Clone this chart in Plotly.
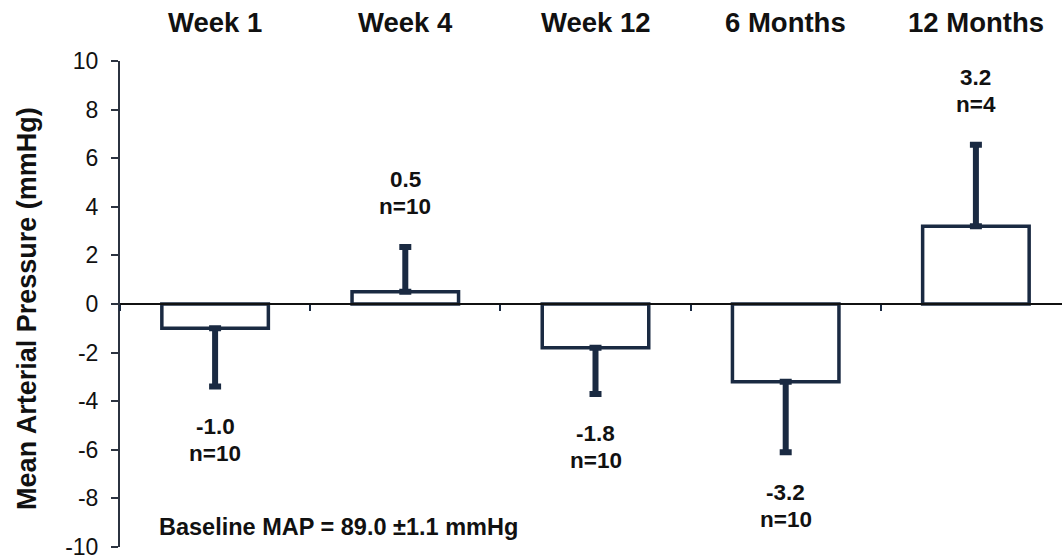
import plotly.graph_objects as go

# ---- data ----
categories = ["Week 1", "Week 4", "Week 12", "6 Months", "12 Months"]
mean_change = [-1.0, 0.5, -1.8, -3.2, 3.2]
error_size = [2.4, 1.85, 1.9, 2.9, 3.35]
n_patients = [10, 10, 10, 10, 4]
y_tick_values = [10, 8, 6, 4, 2, 0, -2, -4, -6, -8, -10]
y_tick_labels = ["10", "8", "6", "4", "2", "0", "-2", "-4", "-6", "-8", "-10"]
y_title = "Mean Arterial Pressure (mmHg)"
baseline_text = "Baseline MAP = 89.0 \u00b11.1 mmHg"

NAVY = "#1a2a42"
FONT = "Liberation Sans, Arial, sans-serif"

err_plus = [e if v > 0 else 0 for v, e in zip(mean_change, error_size)]
err_minus = [e if v < 0 else 0 for v, e in zip(mean_change, error_size)]

fig = go.Figure()
fig.add_trace(go.Bar(
    x=categories,
    y=mean_change,
    width=0.56,
    marker=dict(color="white", line=dict(color=NAVY, width=3.5)),
    error_y=dict(type="data", symmetric=False, array=err_plus, arrayminus=err_minus,
                 color=NAVY, thickness=6, width=6),
    showlegend=False,
    hoverinfo="skip",
))

label_font = dict(family=FONT, size=22.5, color="#111111", weight="bold")
annotations = []
# value / n labels near error-bar ends (two lines, 27 px apart)
for cat, v, e, n in zip(categories, mean_change, error_size, n_patients):
    end = v + e if v > 0 else v - e
    if v > 0:
        shifts = (67, 40)
    else:
        shifts = (-40, -67)
    for txt, sh in zip((f"{v:.1f}", f"n={n}"), shifts):
        annotations.append(dict(
            x=cat, y=end, xref="x", yref="y",
            text=txt, showarrow=False,
            yanchor="middle", yshift=sh,
            font=label_font,
        ))
# category labels on top
for cat in categories:
    annotations.append(dict(
        x=cat, y=1, xref="x", yref="paper",
        text=cat, showarrow=False, yanchor="middle", yshift=39,
        font=dict(family=FONT, size=27.5, color="#111111", weight="bold"),
    ))
# baseline note
annotations.append(dict(
    x=0.039, y=0.041, xref="paper", yref="paper", xanchor="left", yanchor="middle",
    text=baseline_text, showarrow=False,
    font=dict(family=FONT, size=23.5, color="#111111", weight="bold"),
))
# y title
annotations.append(dict(
    x=-0.0987, y=0.49, xref="paper", yref="paper", xanchor="center", yanchor="middle",
    text=y_title, showarrow=False, textangle=-90,
    font=dict(family=FONT, size=27, color="#111111", weight="bold"),
))

fig.update_layout(
    width=1062, height=560,
    margin=dict(l=120, r=0, t=61, b=13),
    paper_bgcolor="white", plot_bgcolor="white",
    annotations=annotations,
    xaxis=dict(
        type="category",
        range=[-0.5, 4.4527],
        anchor="free", position=0.5,
        showline=True, linecolor="#111111", linewidth=1.5,
        ticks="outside", tickson="boundaries", ticklen=6, tickwidth=2, tickcolor=NAVY,
        showticklabels=False, showgrid=False, zeroline=False,
    ),
    yaxis=dict(
        range=[-10, 10],
        tickmode="array", tickvals=y_tick_values, ticktext=y_tick_labels,
        showline=True, linecolor="#2b3340", linewidth=2,
        ticks="outside", ticklen=7, tickwidth=1.5, tickcolor="#2b3340",
        ticklabelstandoff=8, ticklabeloverflow="allow",
        tickfont=dict(family=FONT, size=23, color="#111111"),
        showgrid=False, zeroline=False,
    ),
)

fig.write_html("out.html")
